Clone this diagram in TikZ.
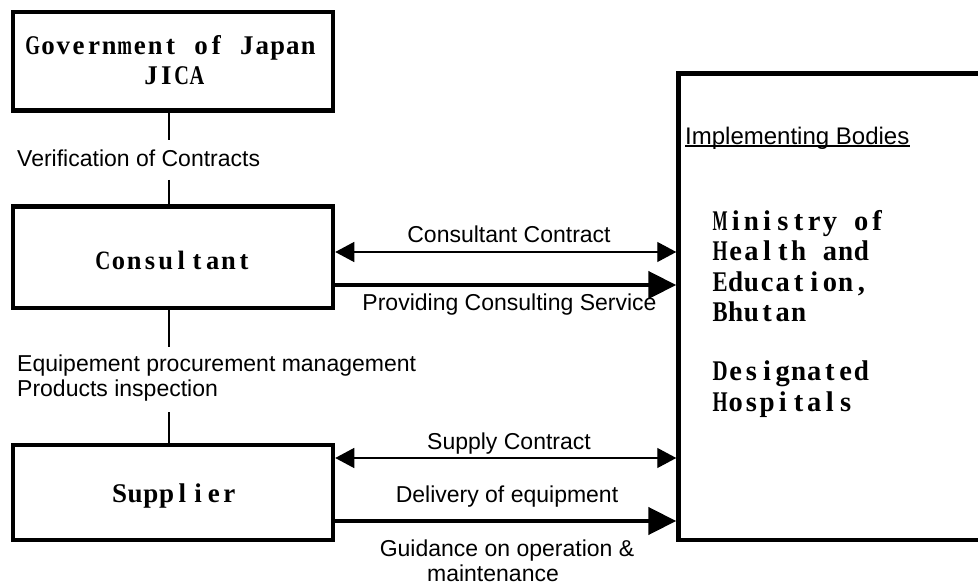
\documentclass[tikz,border=0pt]{standalone}
\usepackage{fontspec}
\usepackage{graphicx}
\setmainfont{Liberation Sans}
\newfontfamily\minchofam{Liberation Serif}
\usetikzlibrary{arrows.meta}
\newlength\cellw \setlength\cellw{15.7pt}
\newlength\cellt
\newsavebox\cellbox
\newcommand\onecell[1]{\sbox\cellbox{#1}\setlength\cellt{\wd\cellbox}%
  \ifdim\cellt>0.96\cellw
    \pgfmathsetmacro\cellfac{0.96*\cellw/\cellt}%
    \makebox[\cellw][c]{\scalebox{\cellfac}[1]{\usebox\cellbox}}%
  \else
    \makebox[\cellw][c]{\usebox\cellbox}%
  \fi}
\def\cellsloop#1{\ifx#1\relax\else\onecell{#1}\expandafter\cellsloop\fi}
\newcommand\cells[1]{\cellsloop#1\relax}
\newcommand\cellsp{\hspace*{\cellw}}
\begin{document}
\begin{tikzpicture}[x=1pt,y=-1pt,
  box/.style={draw,line width=4.5pt,rectangle,inner sep=0pt},
  lbl/.style={font=\fontsize{23}{27}\selectfont,inner sep=0pt},
  boxtxt/.style={font=\minchofam\bfseries\fontsize{28.5}{30}\selectfont,inner sep=0pt,anchor=base},
  conn/.style={line width=1.3pt},
  thinarr/.style={line width=1.3pt,{Triangle[length=19pt,width=20pt]}-{Triangle[length=19pt,width=20pt]}},
  thickarr/.style={line width=4.5pt,-{Triangle[length=28pt,width=27pt]}}]
\useasboundingbox (0,0) rectangle (978,588);
\fill[white] (0,0) rectangle (978,588);
% boxes
\node[box,minimum width=320pt,minimum height=98.5pt] (gov) at (173,61.25) {};
\node[box,minimum width=320pt,minimum height=101.5pt] (cons) at (173,257.25) {};
\node[box,minimum width=320pt,minimum height=95pt] (sup) at (173,492.5) {};
\node[box,minimum width=321.5pt,minimum height=466.5pt] (impl) at (839.25,306.75) {};
% box texts
\node[boxtxt,font=\minchofam\bfseries\fontsize{27}{30}\selectfont] (govt1) at (170.5,55) {\setlength\cellw{15.3pt}\cells{Government}\cellsp\cells{of}\cellsp\cells{Japan}};
\node[boxtxt,font=\minchofam\bfseries\fontsize{27}{30}\selectfont] (govt2) at (174,85) {\setlength\cellw{15.3pt}\cells{JICA}};
\node[boxtxt,font=\minchofam\bfseries\fontsize{26.5}{30}\selectfont] (const) at (173.5,270) {\cells{Consultant}};
\node[boxtxt,font=\minchofam\bfseries\fontsize{27}{30}\selectfont] (supt) at (174.5,502) {\cells{Supplier}};
\node[boxtxt,anchor=base west] (m1) at (712,231) {\cells{Ministry}\cellsp\cells{of}};
\node[boxtxt,anchor=base west] (m2) at (712,261) {\cells{Health}\cellsp\cells{and}};
\node[boxtxt,anchor=base west] (m3) at (712,291) {\cells{Education,}};
\node[boxtxt,anchor=base west] (m4) at (712,321) {\cells{Bhutan}};
\node[boxtxt,anchor=base west] (m5) at (712,381) {\cells{Designated}};
\node[boxtxt,anchor=base west] (m6) at (712,411) {\cells{Hospitals}};
\node[lbl,font=\fontsize{24}{27}\selectfont,anchor=base west] (ib) at (685,145) {Implementing Bodies};
\draw[line width=2pt] ([yshift=-1.3pt]ib.base west) -- ([yshift=-1.3pt]ib.base east);
% vertical connectors
\coordinate (v1) at (169,140);
\coordinate (v2) at (169,180);
\coordinate (v3) at (169,347);
\coordinate (v4) at (169,412);
\draw[conn] (gov.south -| v1) -- (v1);
\draw[conn] (v2) -- (cons.north -| v2);
\draw[conn] (cons.south -| v3) -- (v3);
\draw[conn] (v4) -- (sup.north -| v4);
\node[lbl,anchor=base west] (ver) at (17,167) {Verification of Contracts};
\node[lbl,anchor=base west] (eq1) at (17,371) {Equipement procurement management};
\node[lbl,anchor=base west] (eq2) at (17,396) {Products inspection};
% horizontal arrows
\coordinate (y1) at (0,252);
\coordinate (y2) at (0,285);
\coordinate (y3) at (0,458);
\coordinate (y4) at (0,521);
\draw[thinarr] (cons.east |- y1) -- (impl.west |- y1);
\draw[thickarr] (cons.east |- y2) -- (impl.west |- y2);
\draw[thinarr] (sup.east |- y3) -- (impl.west |- y3);
\draw[thickarr] (sup.east |- y4) -- (impl.west |- y4);
\node[lbl,anchor=base] (cc) at (509,243) {Consultant Contract};
\node[lbl,anchor=base] (pcs) at (509.5,311) {Providing Consulting Service};
\node[lbl,anchor=base] (sc) at (509,449) {Supply Contract};
\node[lbl,anchor=base] (de) at (507,502) {Delivery of equipment};
\node[lbl,anchor=base] (go1) at (507,556) {Guidance on operation \&};
\node[lbl,anchor=base] (go2) at (493,581) {maintenance};
\end{tikzpicture}
\end{document}
